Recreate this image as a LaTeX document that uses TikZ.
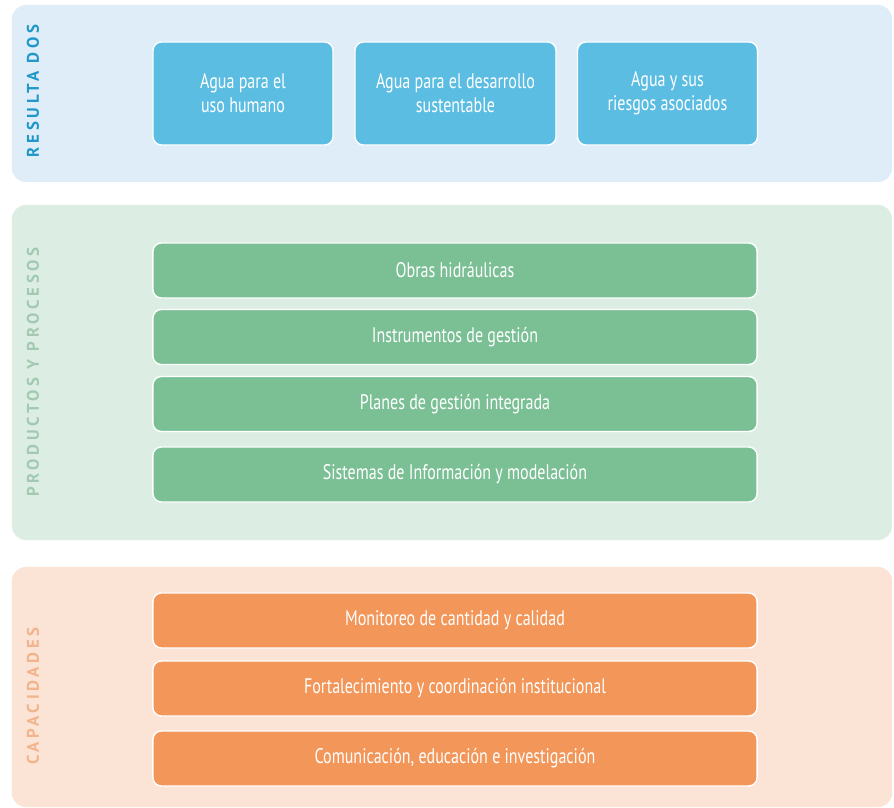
\documentclass[tikz,border=0pt]{standalone}
\usepackage{fontspec}
\setmainfont{PT Sans}
\newfontfamily\boxfont[FakeStretch=0.76]{PT Sans}
\newfontfamily\tagfont[LetterSpace=22]{PT Sans}
\usetikzlibrary{positioning}

\definecolor{bluebg}{HTML}{DEEDF8}
\definecolor{bluebox}{HTML}{5CBDE3}
\definecolor{bluetag}{HTML}{1F98C9}
\definecolor{greenbg}{HTML}{DCEEE4}
\definecolor{greenbox}{HTML}{7BBF95}
\definecolor{greentag}{HTML}{A3C9B3}
\definecolor{orangebg}{HTML}{FBE3D6}
\definecolor{orangebox}{HTML}{F39659}
\definecolor{orangetag}{HTML}{F2B48C}

\begin{document}
\begin{tikzpicture}
                [x=0.025cm, y=-0.025cm,
                 panel/.style = {rectangle, rounded corners=10pt, minimum width=22cm, inner sep=0pt},
                 tag/.style = {rotate=90, font=\tagfont\bfseries\fontsize{12}{13}\selectfont},
                 card/.style = {rectangle, rounded corners=6pt, draw=white, line width=1pt,
                                text=white, align=center, inner sep=0pt,
                                font=\boxfont\fontsize{15}{17}\selectfont},
                 goal/.style = {card, fill=bluebox, minimum width=4.5cm, minimum height=2.575cm},
                 bar/.style = {card, minimum width=15.1cm, minimum height=1.375cm}]

                \useasboundingbox[fill=white] (0,0) rectangle (894,808);

                % paneles
                \node[panel, fill=bluebg, minimum height=4.425cm] (resultados) at (452,93.5) {};
                \node[panel, fill=greenbg, minimum height=8.375cm] (productos) at (452,372.5) {};
                \node[panel, fill=orangebg, minimum height=6cm] (capacidades) at (452,687) {};

                \node[tag, text=bluetag] (tres) at (33,91) {RESULTA DOS};
                \node[tag, text=greentag] (tpro) at (33,372) {PRODUCTOS Y PROCESOS};
                \node[tag, text=orangetag] (tcap) at (33,696) {CAPACIDADES};

                % resultados
                \node[goal] (humano) at (243,93.5) {Agua para el\\uso humano};
                \node[goal, minimum width=5.025cm] (sustentable) at (455.5,93.5) {Agua para el desarrollo\\sustentable};
                \node[goal] (riesgos) at (667.5,93.5) {Agua y sus\\riesgos asociados};

                % productos y procesos
                \node[bar, fill=greenbox] (obras) at (455,270.5) {Obras hidráulicas};
                \node[bar, fill=greenbox] (instrumentos) at (455,337) {Instrumentos de gestión};
                \node[bar, fill=greenbox] (planes) at (455,404) {Planes de gestión integrada};
                \node[bar, fill=greenbox] (sistemas) at (455,474.5) {Sistemas de Información y modelación};

                % capacidades
                \node[bar, fill=orangebox] (monitoreo) at (455,620.5) {Monitoreo de cantidad y calidad};
                \node[bar, fill=orangebox] (fortalecimiento) at (455,688.5) {Fortalecimiento y coordinación institucional};
                \node[bar, fill=orangebox] (comunicacion) at (455,758.5) {Comunicación, educación e investigación};

            \end{tikzpicture}
\end{document}
